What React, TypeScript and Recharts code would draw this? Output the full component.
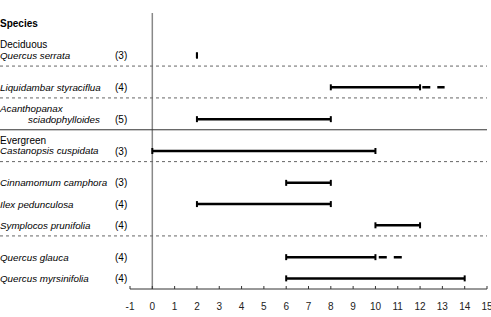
import React from 'react';
import { ComposedChart, Scatter, XAxis, YAxis, ReferenceLine } from 'recharts';

// Species rows (top to bottom)
const species = [
  'Quercus serrata',
  'Liquidambar styraciflua',
  'Acanthopanax sciadophylloides',
  'Castanopsis cuspidata',
  'Cinnamomum camphora',
  'Ilex pedunculosa',
  'Symplocos prunifolia',
  'Quercus glauca',
  'Quercus myrsinifolia',
];
const counts = [3, 4, 5, 3, 3, 4, 4, 4, 4];
const rowPos = [22, 19, 16, 13, 10, 8, 6, 3, 1];
const rangeStart = [2, 8, 2, 0, 6, 2, 10, 6, 6];
const rangeEnd = [2, 12, 8, 10, 8, 8, 12, 10, 14];
const extStart: (number | null)[] = [null, 12.1, null, null, null, null, null, 10.15, null];
const extEnd: (number | null)[] = [null, 13.1, null, null, null, null, null, 11.2, null];

const groupLabels = ['Deciduous', 'Evergreen'];
const groupPos = [23, 14];
const headerLabel = 'Species';
const headerPos = 25;

const dashedSeparators = [21, 18, 12, 5];
const solidSeparators = [15];

const xTicks = [-1, 0, 1, 2, 3, 4, 5, 6, 7, 8, 9, 10, 11, 12, 13, 14, 15];

type Label = { x: number; y: number; text: string; kind: string; count?: number };
const labels: Label[] = [];
labels.push({ x: 0, y: headerPos, text: headerLabel, kind: 'header' });
groupLabels.forEach((g, i) => labels.push({ x: 0, y: groupPos[i], text: g, kind: 'group' }));
species.forEach((s, i) => {
  if (s === 'Acanthopanax sciadophylloides') {
    labels.push({ x: 0, y: rowPos[i] + 1, text: 'Acanthopanax', kind: 'species' });
    labels.push({ x: 0, y: rowPos[i], text: 'sciadophylloides', kind: 'speciesIndent', count: counts[i] });
  } else {
    labels.push({ x: 0, y: rowPos[i], text: s, kind: 'species', count: counts[i] });
  }
});

const FONT = '"Liberation Sans", Arial, sans-serif';

const LabelShape = (props: any) => {
  const { cy, payload } = props;
  if (cy == null || !payload) return <g />;
  const l: Label = payload;
  const y = cy;
  if (l.kind === 'header')
    return (
      <text x={0} y={y} dy="0.35em" fontFamily={FONT} fontSize={10} fontWeight="bold" fill="#000">
        {l.text}
      </text>
    );
  if (l.kind === 'group')
    return (
      <text x={0} y={y} dy="0.35em" fontFamily={FONT} fontSize={10} fill="#000">
        {l.text}
      </text>
    );
  return (
    <g>
      <text
        x={l.kind === 'speciesIndent' ? 28 : 0}
        y={y}
        dy="0.35em"
        fontFamily={FONT}
        fontSize={9.8}
        fontStyle="italic"
        fill="#000"
      >
        {l.text}
      </text>
      {l.count !== undefined && (
        <text x={115} y={y} dy="0.35em" fontFamily={FONT} fontSize={10} fill="#000">
          ({l.count})
        </text>
      )}
    </g>
  );
};

const XTick = (props: any) => {
  const { x, y, payload } = props;
  return (
    <g>
      <line x1={x} x2={x} y1={y} y2={y - 3} stroke="#333" strokeWidth={1} />
      <text x={x} y={y + 20.5} textAnchor="middle" fontFamily={FONT} fontSize={10} fill="#222">
        {payload.value}
      </text>
    </g>
  );
};

const Cap = (props: any) => {
  const { cx, cy } = props;
  if (cx == null || cy == null) return <g />;
  return <line x1={cx} x2={cx} y1={cy - 3} y2={cy + 3} stroke="#000" strokeWidth={2} />;
};

const NoShape = () => <g />;

const Separator = (dashed: boolean) => (p: any) => (
  <line
    x1={0}
    x2={p.x2}
    y1={p.y1}
    y2={p.y2}
    stroke={dashed ? '#666' : '#333'}
    strokeWidth={1}
    strokeDasharray={dashed ? '3 3' : undefined}
  />
);

export default function App() {
  return (
    <div style={{ position: 'absolute', left: 0, top: 0, background: '#fff' }}>
      <ComposedChart width={491} height={317} margin={{ top: 13, right: 4, bottom: 0, left: 130 }}>
        <XAxis
          type="number"
          dataKey="x"
          domain={[-1, 15]}
          ticks={xTicks}
          interval={0}
          height={28}
          tickSize={0}
          tickMargin={0}
          tickLine={false}
          axisLine={{ stroke: '#333', strokeWidth: 1 }}
          tick={<XTick />}
        />
        <YAxis type="number" dataKey="y" domain={[0, 26]} hide />
        <ReferenceLine x={0} stroke="#888" strokeWidth={1.5} />
        {dashedSeparators.map((v) => (
          <ReferenceLine key={'d' + v} y={v} shape={Separator(true)} />
        ))}
        {solidSeparators.map((v) => (
          <ReferenceLine key={'s' + v} y={v} shape={Separator(false)} />
        ))}
        <Scatter
          name="labels"
          data={labels}
          fill="#000"
          shape={<LabelShape />}
          isAnimationActive={false}
        />
        {species.map((s, i) => (
          <Scatter
            key={'r' + i}
            name={s}
            data={[
              { x: rangeStart[i], y: rowPos[i] },
              { x: rangeEnd[i], y: rowPos[i] },
            ]}
            fill="#000"
            line={{ stroke: '#000', strokeWidth: 2.5 }}
            lineType="joint"
            shape={<Cap />}
            isAnimationActive={false}
          />
        ))}
        {species.map((s, i) =>
          extStart[i] != null ? (
            <Scatter
              key={'e' + i}
              name={s + ' ext'}
              data={[
                { x: extStart[i], y: rowPos[i] },
                { x: extEnd[i], y: rowPos[i] },
              ]}
              fill="#000"
              line={{ stroke: '#000', strokeWidth: 2.5, strokeDasharray: '8 7' }}
              lineType="joint"
              shape={<NoShape />}
              isAnimationActive={false}
            />
          ) : null
        )}
      </ComposedChart>
    </div>
  );
}
